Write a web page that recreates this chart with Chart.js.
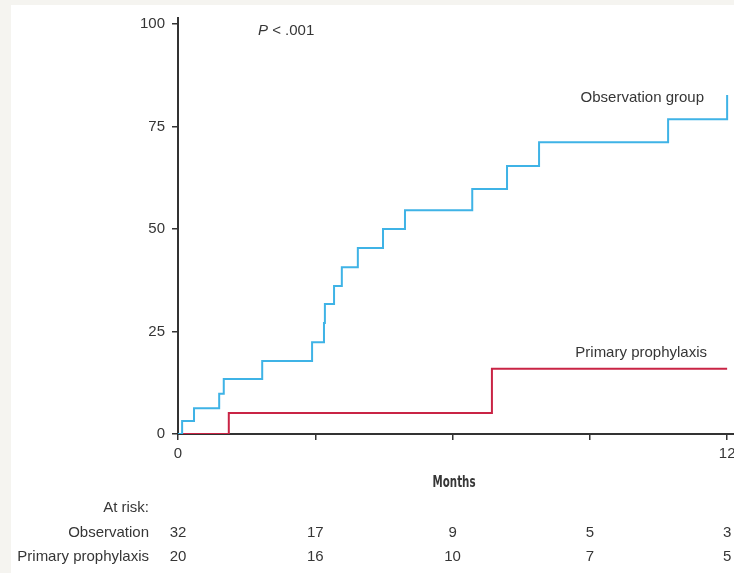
<!DOCTYPE html>
<html>
<head>
<meta charset="utf-8">
<script src="https://cdn.jsdelivr.net/npm/chart.js@4.4.1/dist/chart.umd.min.js"></script>
<style>
  html, body { margin:0; padding:0; background:#fff; }
  #wrap { position:relative; width:734px; height:573px; }
</style>
</head>
<body>
<div id="wrap"><canvas id="chart-km" width="734" height="573"></canvas></div>
<script>
// Cumulative incidence (%) by month — step points (time of event, new level)
const OBS_MONTHS = [0, 0.09, 0.35, 0.90, 1.00, 1.84, 2.93, 3.19, 3.21, 3.41, 3.58, 3.93, 4.48, 4.96, 6.43, 7.19, 7.89, 10.71, 12];
const OBS_PCT    = [0, 3.2,  6.3,  9.8,  13.4, 17.8, 22.4, 27.1, 31.7, 36.1, 40.7, 45.4, 50.0, 54.6, 59.8, 65.4, 71.2, 76.8, 82.7];

const PRO_MONTHS = [0, 1.11, 6.86, 12];
const PRO_PCT    = [0, 5.1,  15.9, 15.9];

const X_TICKS       = [0, 3, 6, 9, 12];
const X_TICK_LABELS = ['0', '', '', '', '12'];
const Y_TICKS       = [0, 25, 50, 75, 100];

const RISK_LABELS = ['Observation', 'Primary prophylaxis'];
const RISK_OBS    = [32, 17, 9, 5, 3];
const RISK_PRO    = [20, 16, 10, 7, 5];

const FONT = "'Liberation Sans', Arial, sans-serif";
const TEXT = '#363636';

// ── Boot ──────────────────────────────────────────────────────────────────────
document.addEventListener('DOMContentLoaded', initChart);

function pts(xs, ys) {
  return xs.map((x, i) => ({ x, y: ys[i] }));
}

// ── Extra text: annotations, x labels, axis title, at-risk table ──────────────
const decor = {
  id: 'decor',
  beforeDraw(chart) {
    const c = chart.ctx;
    c.save();
    c.fillStyle = '#fff';
    c.fillRect(0, 0, chart.width, chart.height);
    c.fillStyle = '#f5f4f0';
    c.fillRect(0, 0, chart.width, 5);
    c.fillRect(0, 0, 11, chart.height);
    c.restore();
  },
  afterDraw(chart) {
    const c = chart.ctx;
    const x = chart.scales.x;
    c.save();
    c.fillStyle = TEXT;
    c.textBaseline = 'middle';

    // P value
    c.textAlign = 'left';
    c.font = `italic 15px ${FONT}`;
    c.fillText('P', 258, 31);
    const pw = c.measureText('P').width;
    c.font = `15px ${FONT}`;
    c.fillText(' < .001', 258 + pw, 31);

    // curve labels
    c.textAlign = 'right';
    c.fillText('Observation group', 704, 98);
    c.fillText('Primary prophylaxis', 707, 353);

    // x tick labels
    c.textAlign = 'center';
    X_TICKS.forEach((t, i) => {
      if (X_TICK_LABELS[i]) c.fillText(X_TICK_LABELS[i], x.getPixelForValue(t), 454);
    });

    // axis title (condensed)
    c.font = `bold 14px 'DejaVu Sans Condensed', sans-serif`;
    const mw = c.measureText('Months').width;
    c.save();
    c.translate(454, 483);
    c.scale(43 / mw, 1.1);
    c.fillText('Months', 0, 0);
    c.restore();

    // at-risk table
    c.font = `15px ${FONT}`;
    c.textAlign = 'right';
    c.fillText('At risk:', 149, 508);
    c.fillText(RISK_LABELS[0], 149, 533);
    c.fillText(RISK_LABELS[1], 149, 557);
    c.textAlign = 'center';
    X_TICKS.forEach((t, i) => {
      const px = x.getPixelForValue(t);
      c.fillText(String(RISK_OBS[i]), px, 533);
      c.fillText(String(RISK_PRO[i]), px, 557);
    });
    c.restore();
  },
};

// ── Chart ─────────────────────────────────────────────────────────────────────
function initChart() {
  const blue = '#3fb3e6';
  const red  = '#c92445';
  const axis = '#333';

  new Chart(document.getElementById('chart-km'), {
    type: 'line',
    data: {
      datasets: [
        { label: 'Observation group',   data: pts(OBS_MONTHS, OBS_PCT), borderColor: blue, borderWidth: 2, stepped: 'before', pointRadius: 0, fill: false },
        { label: 'Primary prophylaxis', data: pts(PRO_MONTHS, PRO_PCT), borderColor: red,  borderWidth: 2, stepped: 'before', pointRadius: 0, fill: false },
      ],
    },
    options: {
      responsive: false,
      animation: false,
      layout: { padding: { top: 18, left: 0, right: 0, bottom: 0 } },
      plugins: { legend: { display: false }, tooltip: { enabled: false } },
      scales: {
        x: {
          type: 'linear', min: 0, max: 12.15,
          afterBuildTicks: s => { s.ticks = X_TICKS.map(v => ({ value: v })); },
          afterFit: s => { s.height = 139; },
          border: { display: true, color: axis, width: 2 },
          grid: { drawOnChartArea: false, drawTicks: true, tickLength: 6, color: axis, lineWidth: 1.5 },
          ticks: { display: false },
        },
        y: {
          type: 'linear', min: 0, max: 101.5,
          afterBuildTicks: s => { s.ticks = Y_TICKS.map(v => ({ value: v })); },
          afterFit: s => { s.width = 178; },
          border: { display: true, color: axis, width: 2 },
          grid: { drawOnChartArea: false, drawTicks: true, tickLength: 6, color: axis, lineWidth: 1.5 },
          ticks: { padding: 7, color: TEXT, font: { family: FONT, size: 15 } },
        },
      },
    },
    plugins: [decor],
  });
}
</script>
</body>
</html>
